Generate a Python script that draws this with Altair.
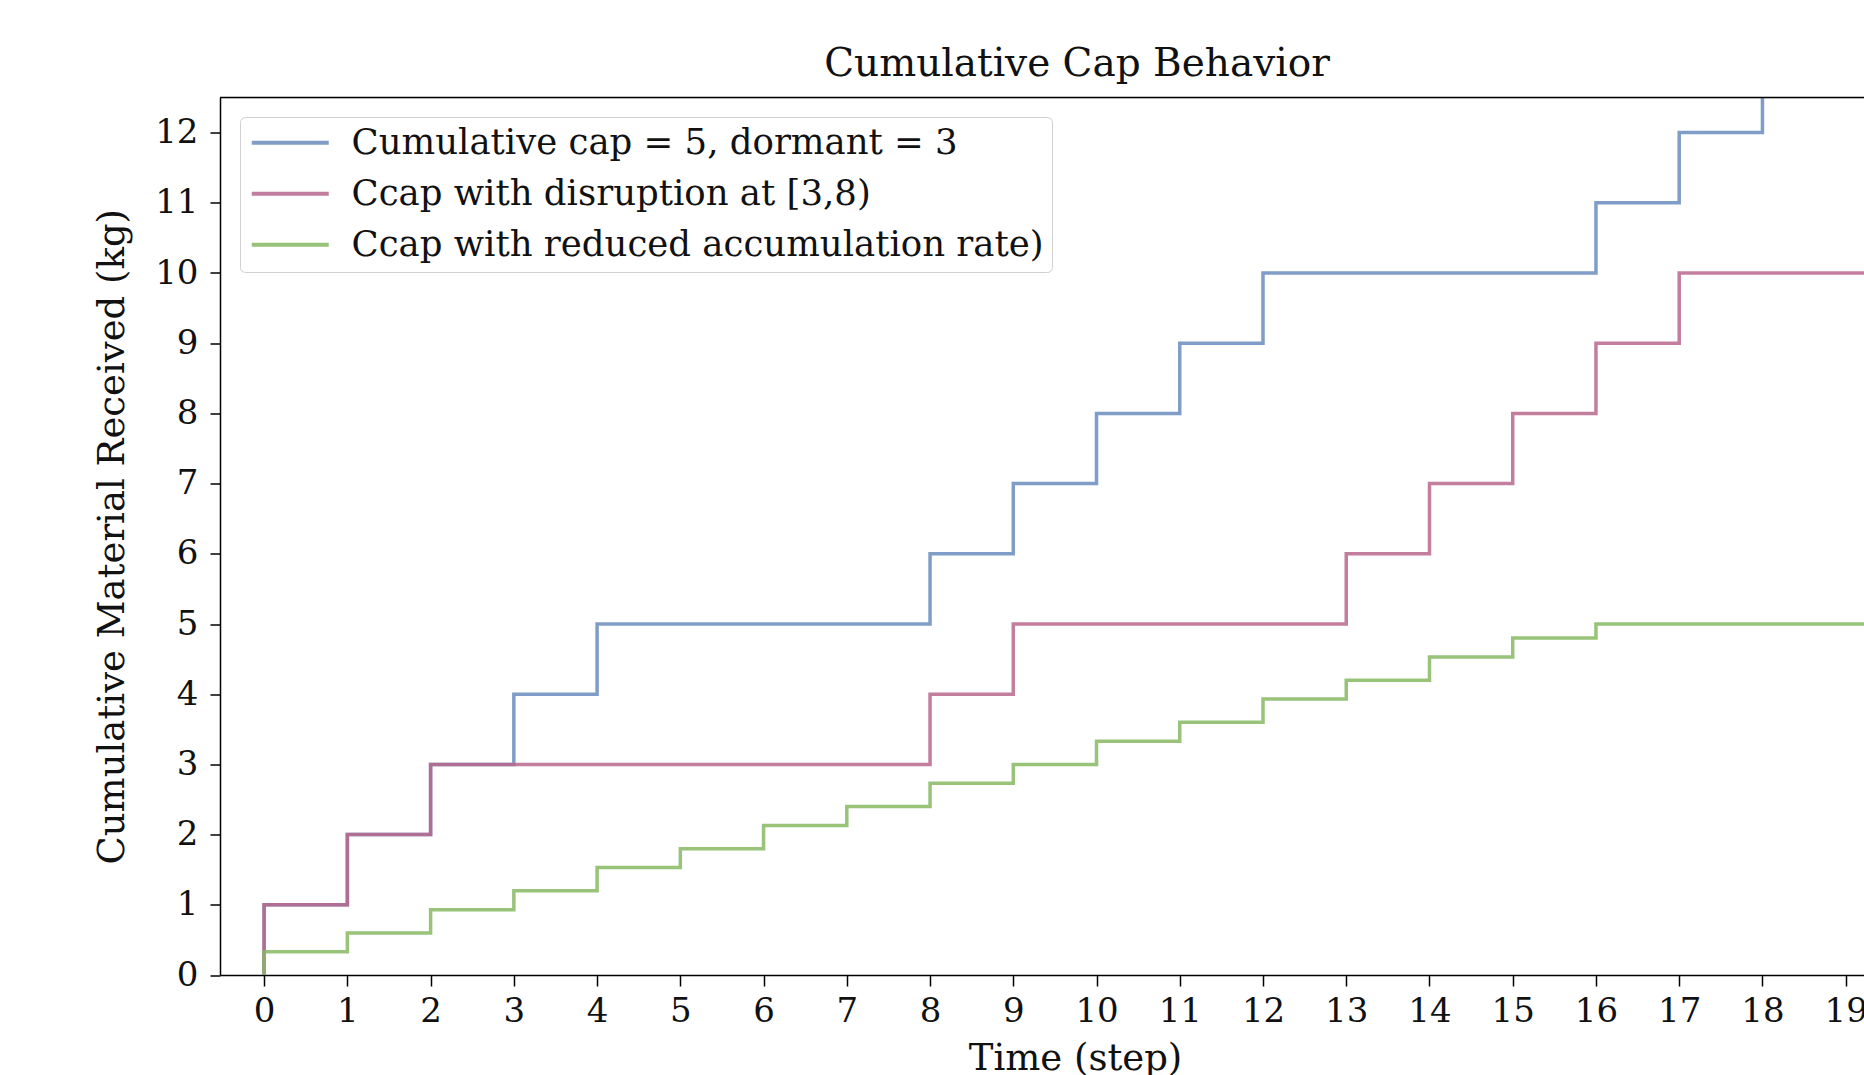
import altair as alt
import pandas as pd

# ---- data ----
time_steps = list(range(21))
cap_values = [0, 1, 2, 3, 4, 5, 5, 5, 5, 6, 7, 8, 9, 10, 10, 10, 10, 11, 12, 13, 13]
disruption_values = [0, 1, 2, 3, 3, 3, 3, 3, 3, 4, 5, 5, 5, 5, 6, 7, 8, 9, 10, 10, 10]
reduced_values = [0, 0.33, 0.6, 0.93, 1.2, 1.53, 1.8, 2.13, 2.4, 2.73, 3.0, 3.33, 3.6,
                  3.93, 4.2, 4.53, 4.8, 5.0, 5.0, 5.0, 5.0]
series_names = [
    "Cumulative cap = 5, dormant = 3",
    "Ccap with disruption at [3,8)",
    "Ccap with reduced accumulation rate)",
]
series_colors = ["#6a8cbd", "#b8668c", "#86b862"]
x_ticks = list(range(20))
y_ticks = list(range(13))

rows = []
for name, vals in zip(series_names, [cap_values, disruption_values, reduced_values]):
    for t, v in zip(time_steps, vals):
        rows.append({"series": name, "t": t, "v": v})
df = pd.DataFrame(rows)

FONT = "DejaVu Serif"
W, H = 1644, 877.5

color = alt.Color(
    "series:N",
    scale=alt.Scale(domain=series_names, range=series_colors),
    legend=alt.Legend(
        orient="none", legendX=20, legendY=19.5, title=None,
        symbolType="M-1,0H4.5", symbolSize=784, symbolStrokeWidth=4,
        labelFont=FONT, labelFontSize=35.5, labelColor="#111111", labelOffset=68,
        labelLimit=2000, padding=8, rowPadding=14,
        strokeColor="#d0d0d0", fillColor="white", cornerRadius=5,
    ),
)

x = alt.X(
    "t:Q",
    scale=alt.Scale(domain=[-0.53, 19.22], nice=False, zero=False),
    axis=alt.Axis(
        values=x_ticks, title="Time (step)", grid=False,
        labelFont=FONT, labelFontSize=34, labelColor="#111111", labelPadding=8,
        labelOverlap=False, labelFlush=False, labelBound=False,
        tickSize=11, tickWidth=1.5, tickColor="black",
        domainColor="black", domainWidth=1.5,
        titleFont=FONT, titleFontSize=37, titleFontWeight="normal", titleColor="#111111",
        titlePadding=12, titleX=855,
    ),
)
y = alt.Y(
    "v:Q",
    scale=alt.Scale(domain=[0, 12.5], nice=False),
    axis=alt.Axis(
        values=y_ticks, title="Cumulative Material Received (kg)", grid=False,
        labelFont=FONT, labelFontSize=34, labelColor="#111111", labelPadding=12,
        labelOverlap=False, labelFlush=False,
        tickSize=10, tickWidth=1.5, tickColor="black",
        domainColor="black", domainWidth=1.5,
        titleFont=FONT, titleFontSize=37, titleFontWeight="normal", titleColor="#111111",
        titlePadding=23,
    ),
)

base = alt.Chart(df).mark_line(
    interpolate="step-before", clip=True, strokeWidth=3.5, opacity=0.85
).encode(x=x, y=y, color=color)

layers = [base.transform_filter(alt.datum.series == s) for s in series_names]

top_spine = alt.Chart(df).mark_rule(color="black", strokeWidth=1.5).encode(
    x=alt.value(0), x2=alt.value(W), y=alt.value(0)
).transform_filter(alt.datum.t == 0).transform_filter(alt.datum.series == series_names[0])

chart = alt.layer(*layers, top_spine).properties(
    width=W, height=H,
    title=alt.TitleParams(
        "Cumulative Cap Behavior", font=FONT, fontSize=39, fontWeight="normal",
        color="#111111", anchor="middle", dx=35, offset=12.5,
    ),
    autosize=alt.AutoSizeParams(type="none"),
    padding={"left": 220, "top": 97.5, "right": 0, "bottom": 100},
).configure_view(stroke=None).configure(background="white")

chart.save("out.html", embed_options={"renderer": "svg", "actions": False})
